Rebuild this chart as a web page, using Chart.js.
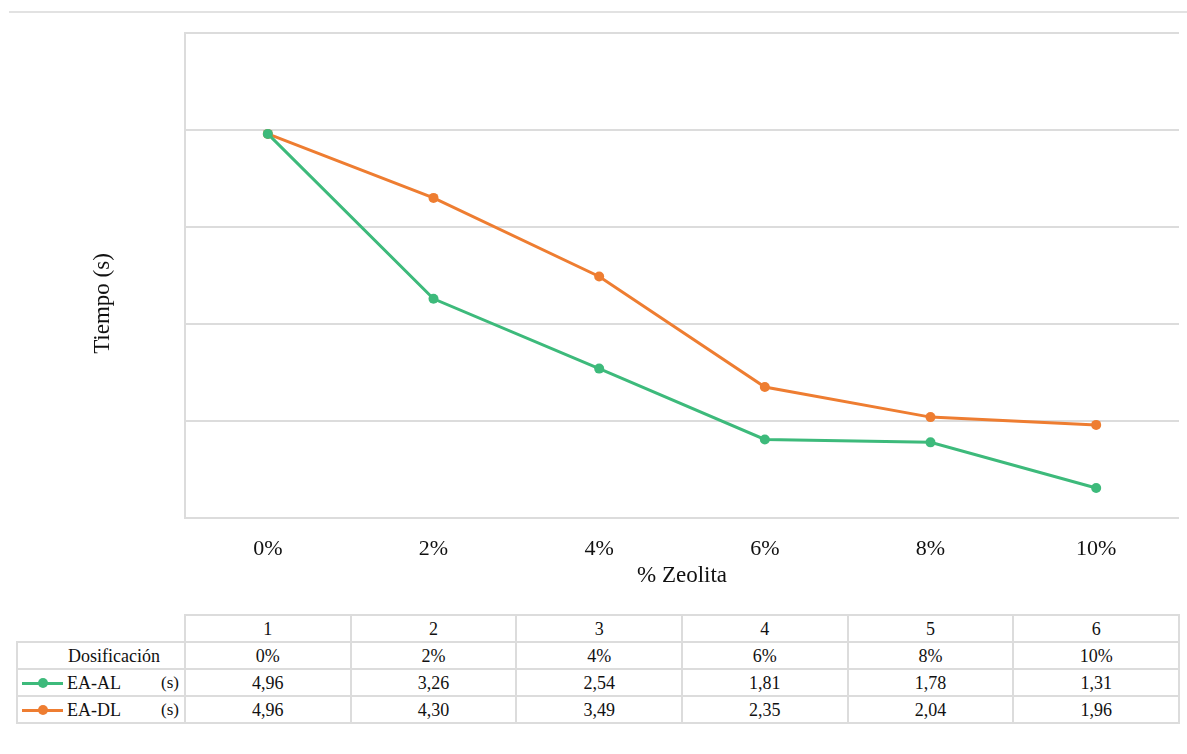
<!DOCTYPE html>
<html lang="es">
<head>
<meta charset="utf-8">
<script src="https://cdn.jsdelivr.net/npm/chart.js@4/dist/chart.umd.min.js"></script>
<style>
  html, body { margin: 0; padding: 0; background: #fff; }
  body { width: 1187px; height: 754px; position: relative; overflow: hidden; font-family: "Liberation Serif", "Times New Roman", serif; }
  #topRule { position: absolute; left: 9px; right: 0; top: 11px; height: 0; border-top: 2px solid #e2e2e2; }
  #wrap { position: absolute; left: 0; top: 0; width: 1187px; height: 590px; }
  #dataTable { position: absolute; left: 16px; top: 614px; width: 1164px; table-layout: fixed; border-collapse: collapse; font-size: 18px; color: #111; }
  #dataTable td { border: 2px solid #dcdcdc; height: 25px; padding: 0; text-align: center; line-height: 20px; }
  #dataTable td.blank { border-top: none; border-left: none; }
  #dataTable td.head { padding-left: 26px; }
  .key { display: inline-block; position: relative; width: 41px; height: 10px; vertical-align: middle; margin: 0 4px 0 4px; }
  .key::before { content: ""; position: absolute; left: 0; right: 0; top: 4px; height: 3px; background: var(--c); }
  .key::after { content: ""; position: absolute; left: 16px; top: 0px; width: 10px; height: 10px; border-radius: 50%; background: var(--c); }
  .series { display: flex; align-items: center; text-align: left; }
  .series .nm { flex: 1; }
  .series .un { margin-right: 5px; font-size: 17px; }
</style>
</head>
<body>
<div id="topRule"></div>
<div id="wrap"><canvas id="chart" width="1187" height="590"></canvas></div>
<table id="dataTable"></table>
<script>
// Dosages of zeolite and measured times (s)
const indices = [1, 2, 3, 4, 5, 6];
const dosages = ['0%', '2%', '4%', '6%', '8%', '10%'];
const eaAL = [4.96, 3.26, 2.54, 1.81, 1.78, 1.31];
const eaDL = [4.96, 4.30, 3.49, 2.35, 2.04, 1.96];
const seriesNames = ['EA-AL', 'EA-DL'];
const seriesColors = ['#3dba7b', '#ee7d31'];

const serif = '"Liberation Serif", "Times New Roman", serif';

// Rotated y-axis title, placed beside the plot area
const yTitlePlugin = {
  id: 'yTitle',
  afterDraw(chart) {
    const { ctx, chartArea } = chart;
    ctx.save();
    ctx.translate(103, (chartArea.top + chartArea.bottom) / 2 + 28);
    ctx.rotate(-Math.PI / 2);
    ctx.font = '23px ' + serif;
    ctx.fillStyle = '#111';
    ctx.textAlign = 'center';
    ctx.textBaseline = 'middle';
    ctx.fillText('Tiempo (s)', 0, 0);
    ctx.restore();
  }
};

const makeSet = (label, data, color) => ({
  label, data,
  borderColor: color, backgroundColor: color,
  borderWidth: 3, pointRadius: 5, pointHoverRadius: 5,
  pointBorderWidth: 0, tension: 0
});

new Chart(document.getElementById('chart'), {
  type: 'line',
  data: {
    labels: dosages,
    datasets: [
      makeSet(seriesNames[0], eaAL, seriesColors[0]),
      makeSet(seriesNames[1], eaDL, seriesColors[1])
    ]
  },
  options: {
    responsive: false,
    animation: false,
    layout: { padding: { left: 185, top: 33, right: 8, bottom: 0 } },
    plugins: { legend: { display: false }, tooltip: { enabled: false } },
    scales: {
      x: {
        offset: true,
        grid: { display: false, drawTicks: false },
        border: { display: false },
        ticks: { color: '#111', font: { family: serif, size: 22 }, padding: 18 },
        title: { display: true, text: '% Zeolita', color: '#111', font: { family: serif, size: 23 }, padding: { top: -18, bottom: 0 } }
      },
      y: {
        min: 1, max: 6,
        ticks: { display: false, stepSize: 1 },
        grid: { color: '#dcdcdc', lineWidth: 2, drawTicks: false },
        border: { display: true, color: '#dcdcdc', width: 2 }
      }
    }
  },
  plugins: [yTitlePlugin]
});

// Data table under the chart
const table = document.getElementById('dataTable');
const fmt = v => v.toFixed(2).replace('.', ',');
let html = '<colgroup><col style="width:168px">' + indices.map(() => '<col>').join('') + '</colgroup>';
html += '<tr><td class="blank"></td>' + indices.map(i => `<td>${i}</td>`).join('') + '</tr>';
html += '<tr><td class="head">Dosificación</td>' + dosages.map(d => `<td>${d}</td>`).join('') + '</tr>';
[eaAL, eaDL].forEach((vals, k) => {
  html += `<tr><td><div class="series"><span class="key" style="--c:${seriesColors[k]}"></span><span class="nm">${seriesNames[k]}</span><span class="un">(s)</span></div></td>` +
    vals.map(v => `<td>${fmt(v)}</td>`).join('') + '</tr>';
});
table.innerHTML = html;
</script>
</body>
</html>
